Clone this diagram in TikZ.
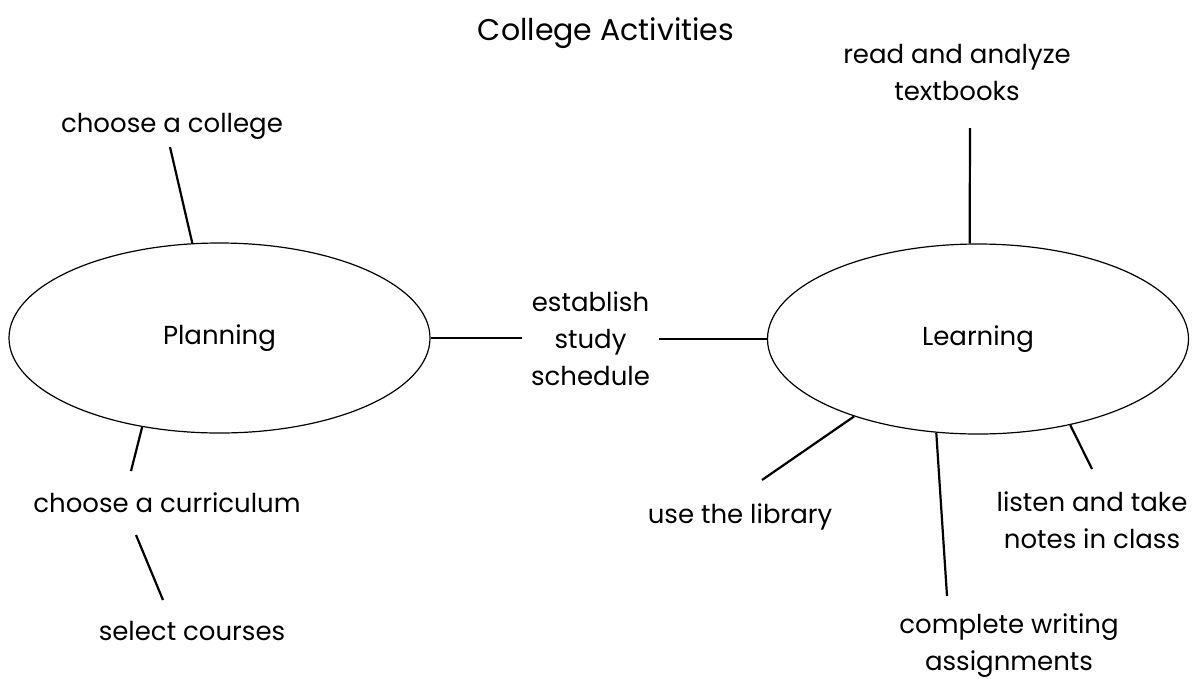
\documentclass[tikz,border=0pt]{standalone}
\usepackage{fontspec}
\setmainfont{Poppins}
\usetikzlibrary{shapes.geometric}

\begin{document}
\begin{tikzpicture}[x=1pt,y=-1pt,
    lbl/.style={font=\fontsize{26}{37}\selectfont, inner sep=0pt, align=center, anchor=base},
    blob/.style={draw, ellipse, line width=1.2pt, inner sep=0pt,
      minimum width=421pt, minimum height=190pt, font=\fontsize{26}{37}\selectfont},
    spoke/.style={line width=2.2pt}]
  \useasboundingbox (0,0) rectangle (1193,678);
  \node [lbl, font=\fontsize{30}{36}\selectfont] (title) at (606,40) {College Activities};
  \node [blob] (plan) at (219.5,338) {Planning};
  \node [blob] (learn) at (978,339) {Learning};
  \node [lbl] (college) at (172,132) {choose a college};
  \node [lbl] (curric) at (167,512) {choose a curriculum};
  \node [lbl] (courses) at (192,640) {select courses};
  \node [lbl, anchor=center, minimum width=137pt] (sched) at (590.5,339) {establish\\study\\schedule};
  \node [lbl] (read) at (957,100) {read and analyze\\textbooks};
  \node [lbl] (library) at (740,523) {use the library};
  \node [lbl] (write) at (1009,670) {complete writing\\assignments};
  \node [lbl] (listen) at (1092,548) {listen and take\\notes in class};
  \coordinate (collegeend) at (170,147);
  \coordinate (curricend) at (131,471);
  \coordinate (currictop) at (136,535);
  \coordinate (coursesend) at (163,600);
  \coordinate (readend) at (970,128);
  \coordinate (libraryend) at (762,480);
  \coordinate (writeend) at (947,596);
  \coordinate (listenend) at (1092,469);
  \draw [spoke] (plan.106) -- (collegeend);
  \draw [spoke] (plan.229) -- (curricend);
  \draw [spoke] (currictop) -- (coursesend);
  \draw [spoke] (plan.east) -- (plan.east -| sched.west);
  \draw [spoke] (learn.west -| sched.east) -- (learn.west);
  \draw [spoke] (learn.95) -- (readend);
  \draw [spoke] (learn.212) -- (libraryend);
  \draw [spoke] (learn.246) -- (writeend);
  \draw [spoke] (learn.317) -- (listenend);
\end{tikzpicture}
\end{document}
